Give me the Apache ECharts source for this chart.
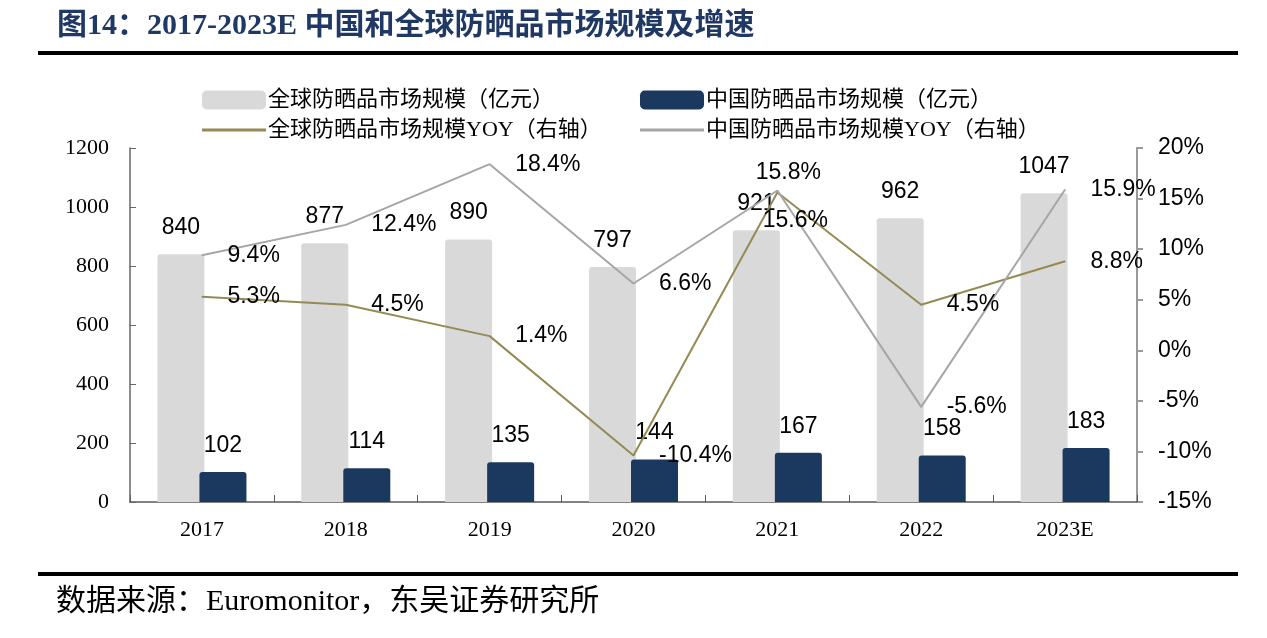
<!DOCTYPE html>
<html><head><meta charset="utf-8">
<script src="https://cdn.jsdelivr.net/npm/echarts@6/dist/echarts.min.js"></script>
<style>html,body{margin:0;padding:0;background:#fff}#c{width:1267px;height:638px}</style>
</head><body><div id="c"></div>
<script>
const categories = ['2017', '2018', '2019', '2020', '2021', '2022', '2023E'];
const globalSize = [840, 877, 890, 797, 921, 962, 1047];
const chinaSize = [102, 114, 135, 144, 167, 158, 183];
const globalYoy = [5.3, 4.5, 1.4, -10.4, 15.6, 4.5, 8.8];
const chinaYoy = [9.4, 12.4, 18.4, 6.6, 15.8, -5.6, 15.9];
const seriesNames = ['全球防晒品市场规模（亿元）', '中国防晒品市场规模（亿元）', '全球防晒品市场规模YOY（右轴）', '中国防晒品市场规模YOY（右轴）'];
const titleText = '图14：2017-2023E 中国和全球防晒品市场规模及增速';
const sourceText = '数据来源：Euromonitor，东吴证券研究所';

const SERIF = "'Liberation Serif','Times New Roman','Noto Sans CJK SC',serif";
const SANS = "'Liberation Sans',Arial,sans-serif";
const colors = { gbar: '#d9d9d9', cbar: '#1b385e', gline: '#948a54', cline: '#a6a6a6' };

const lblBase = { show: true, fontFamily: SANS, fontSize: 23, color: '#000', formatter: p => p.value.toFixed(1) + '%' };
const specialLabels = {
  g: { 4: { position: 'bottom', distance: 16, offset: [18, 0] } },
  c: { 4: { position: 'top', distance: 6, offset: [11, 0] } }
};
function lineData(arr, key) {
  return arr.map((v, i) => specialLabels[key][i] ? { value: v, label: specialLabels[key][i] } : v);
}

const chart = echarts.init(document.getElementById('c'), null, { renderer: 'canvas' });
function legendAt(name, left, top, icon, color, h) {
  return {
    left: left, top: top, itemWidth: 64, itemHeight: h, itemGap: 4, selectedMode: false,
    data: [{ name: name, icon: icon, itemStyle: { color: color } }],
    textStyle: { fontFamily: SERIF, fontSize: 22, color: '#000', padding: [0, 0, 0, -3] }
  };
}
chart.setOption({
  animation: false,
  backgroundColor: '#fff',
  legend: [
    legendAt(seriesNames[0], 197, 84, 'roundRect', colors.gbar, 19),
    legendAt(seriesNames[1], 635, 84, 'roundRect', colors.cbar, 19),
    legendAt(seriesNames[2], 197, 114, 'rect', colors.gline, 3),
    legendAt(seriesNames[3], 635, 114, 'rect', colors.cline, 3)
  ],
  grid: { left: 130, right: 130, top: 148, bottom: 136, containLabel: false },
  xAxis: {
    type: 'category', data: categories,
    axisLine: { lineStyle: { color: '#595959', width: 1.5 } },
    axisTick: { show: true, inside: true, length: 7, alignWithLabel: false, lineStyle: { color: '#595959' } },
    axisLabel: { fontFamily: SERIF, fontSize: 22, color: '#000', margin: 17 }
  },
  yAxis: [
    {
      type: 'value', min: 0, max: 1200, interval: 200,
      axisLine: { show: true, lineStyle: { color: '#666', width: 1.5 } },
      axisTick: { show: true, inside: true, length: 6, lineStyle: { color: '#666' } },
      splitLine: { show: false },
      axisLabel: { fontFamily: SERIF, fontSize: 22, color: '#000', margin: 21, formatter: v => String(v) }
    },
    {
      type: 'value', min: -15, max: 20, interval: 5, position: 'right',
      axisLine: { show: true, lineStyle: { color: '#999', width: 2 } },
      axisTick: { show: true, inside: false, length: 6, lineStyle: { color: '#999', width: 2 } },
      splitLine: { show: false },
      axisLabel: { fontFamily: SANS, fontSize: 23, color: '#000', margin: 21, formatter: '{value}%' }
    }
  ],
  series: [
    {
      name: seriesNames[0], type: 'bar', data: globalSize, barWidth: 47, barGap: '-10.6%',
      itemStyle: { color: colors.gbar, borderRadius: [3, 3, 0, 0] },
      label: { show: true, position: 'top', distance: 15, fontFamily: SANS, fontSize: 23, color: '#000' }
    },
    {
      name: seriesNames[1], type: 'bar', data: chinaSize, barWidth: 47, barGap: '-10.6%',
      itemStyle: { color: colors.cbar, borderRadius: [3, 3, 0, 0] },
      label: { show: true, position: 'top', distance: 15, fontFamily: SANS, fontSize: 23, color: '#000' }
    },
    {
      name: seriesNames[2], type: 'line', yAxisIndex: 1, data: lineData(globalYoy, 'g'),
      symbol: 'circle', symbolSize: 1, itemStyle: { color: colors.gline },
      lineStyle: { color: colors.gline, width: 2 },
      label: Object.assign({}, lblBase, { position: 'right', distance: 25 })
    },
    {
      name: seriesNames[3], type: 'line', yAxisIndex: 1, data: lineData(chinaYoy, 'c'),
      symbol: 'circle', symbolSize: 1, itemStyle: { color: colors.cline },
      lineStyle: { color: colors.cline, width: 2 },
      label: Object.assign({}, lblBase, { position: 'right', distance: 25 })
    }
  ],
  graphic: [
    { type: 'text', left: 57, top: 11, style: { text: titleText, fontFamily: SERIF, fontWeight: 'bold', fontSize: 30, fill: '#1f3864' } },
    { type: 'rect', shape: { x: 38, y: 51, width: 1200, height: 4 }, style: { fill: '#000' } },
    { type: 'rect', shape: { x: 38, y: 572, width: 1200, height: 4 }, style: { fill: '#000' } },
    { type: 'text', left: 56, top: 587, style: { text: sourceText, fontFamily: SERIF, fontSize: 30, fill: '#000' } }
  ]
});
</script>
</body></html>
